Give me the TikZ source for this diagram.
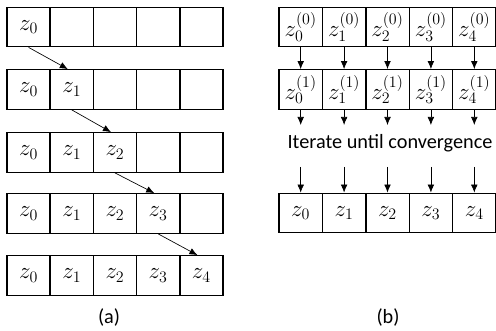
\documentclass[tikz,border=0pt]{standalone}
\usepackage{fontspec}
\setsansfont{Carlito}
\usetikzlibrary{arrows.meta}

\begin{document}
\begin{tikzpicture}[x=0.75pt,y=-0.75pt,
    cell/.style={draw, line width=1pt, minimum width=32.5pt, minimum height=29.6pt,
                 inner sep=0pt, font=\fontsize{17}{19}\selectfont},
    arr/.style={-{Latex[length=6pt,width=5pt]}, line width=0.5pt},
    caption/.style={font=\sffamily\fontsize{15.2}{18}\selectfont}]
    \useasboundingbox (0,0) rectangle (496,331);

    % (a) rows, filled one cell at a time
    \foreach \r/\y in {1/27,2/89.5,3/152.5,4/213.5,5/275.5}
        \foreach \c [count=\k from 0] in {1,...,5}
            \node[cell] (a\r-\c) at ({7+43.2*(\c-0.5)},\y)
                {\ifnum\c>\r\relax\else$z_{\k}$\fi};
    \foreach \r [evaluate=\r as \s using int(\r+1)] in {1,...,4}
        \draw[arr] (a\r-\r.south) -- ([xshift=-3pt]a\s-\s.north);
    \node[caption] (capa) at (109,317) {(a)};

    % (b) all cells updated together
    \foreach \c [count=\k from 0] in {1,...,5} {
        \node[cell] (b1-\c) at ({279+43.4*(\c-0.5)},27) {$z_{\k}^{(0)}$};
        \node[cell] (b2-\c) at ({279+43.4*(\c-0.5)},89.5) {$z_{\k}^{(1)}$};
        \node[cell] (b3-\c) at ({279+43.4*(\c-0.5)},213) {$z_{\k}$};
        \coordinate (out\c) at ({279+43.4*(\c-0.5)},125);
        \coordinate (in\c) at ({279+43.4*(\c-0.5)},167);
        \draw[arr] (b1-\c.south) -- (b2-\c.north);
        \draw[arr] (b2-\c.south) -- (out\c);
        \draw[arr] (in\c) -- (b3-\c.north);
    }
    \node[caption] (iter) at (390,143) {Iterate until convergence};
    \node[caption] (capb) at (388,317) {(b)};
\end{tikzpicture}
\end{document}
